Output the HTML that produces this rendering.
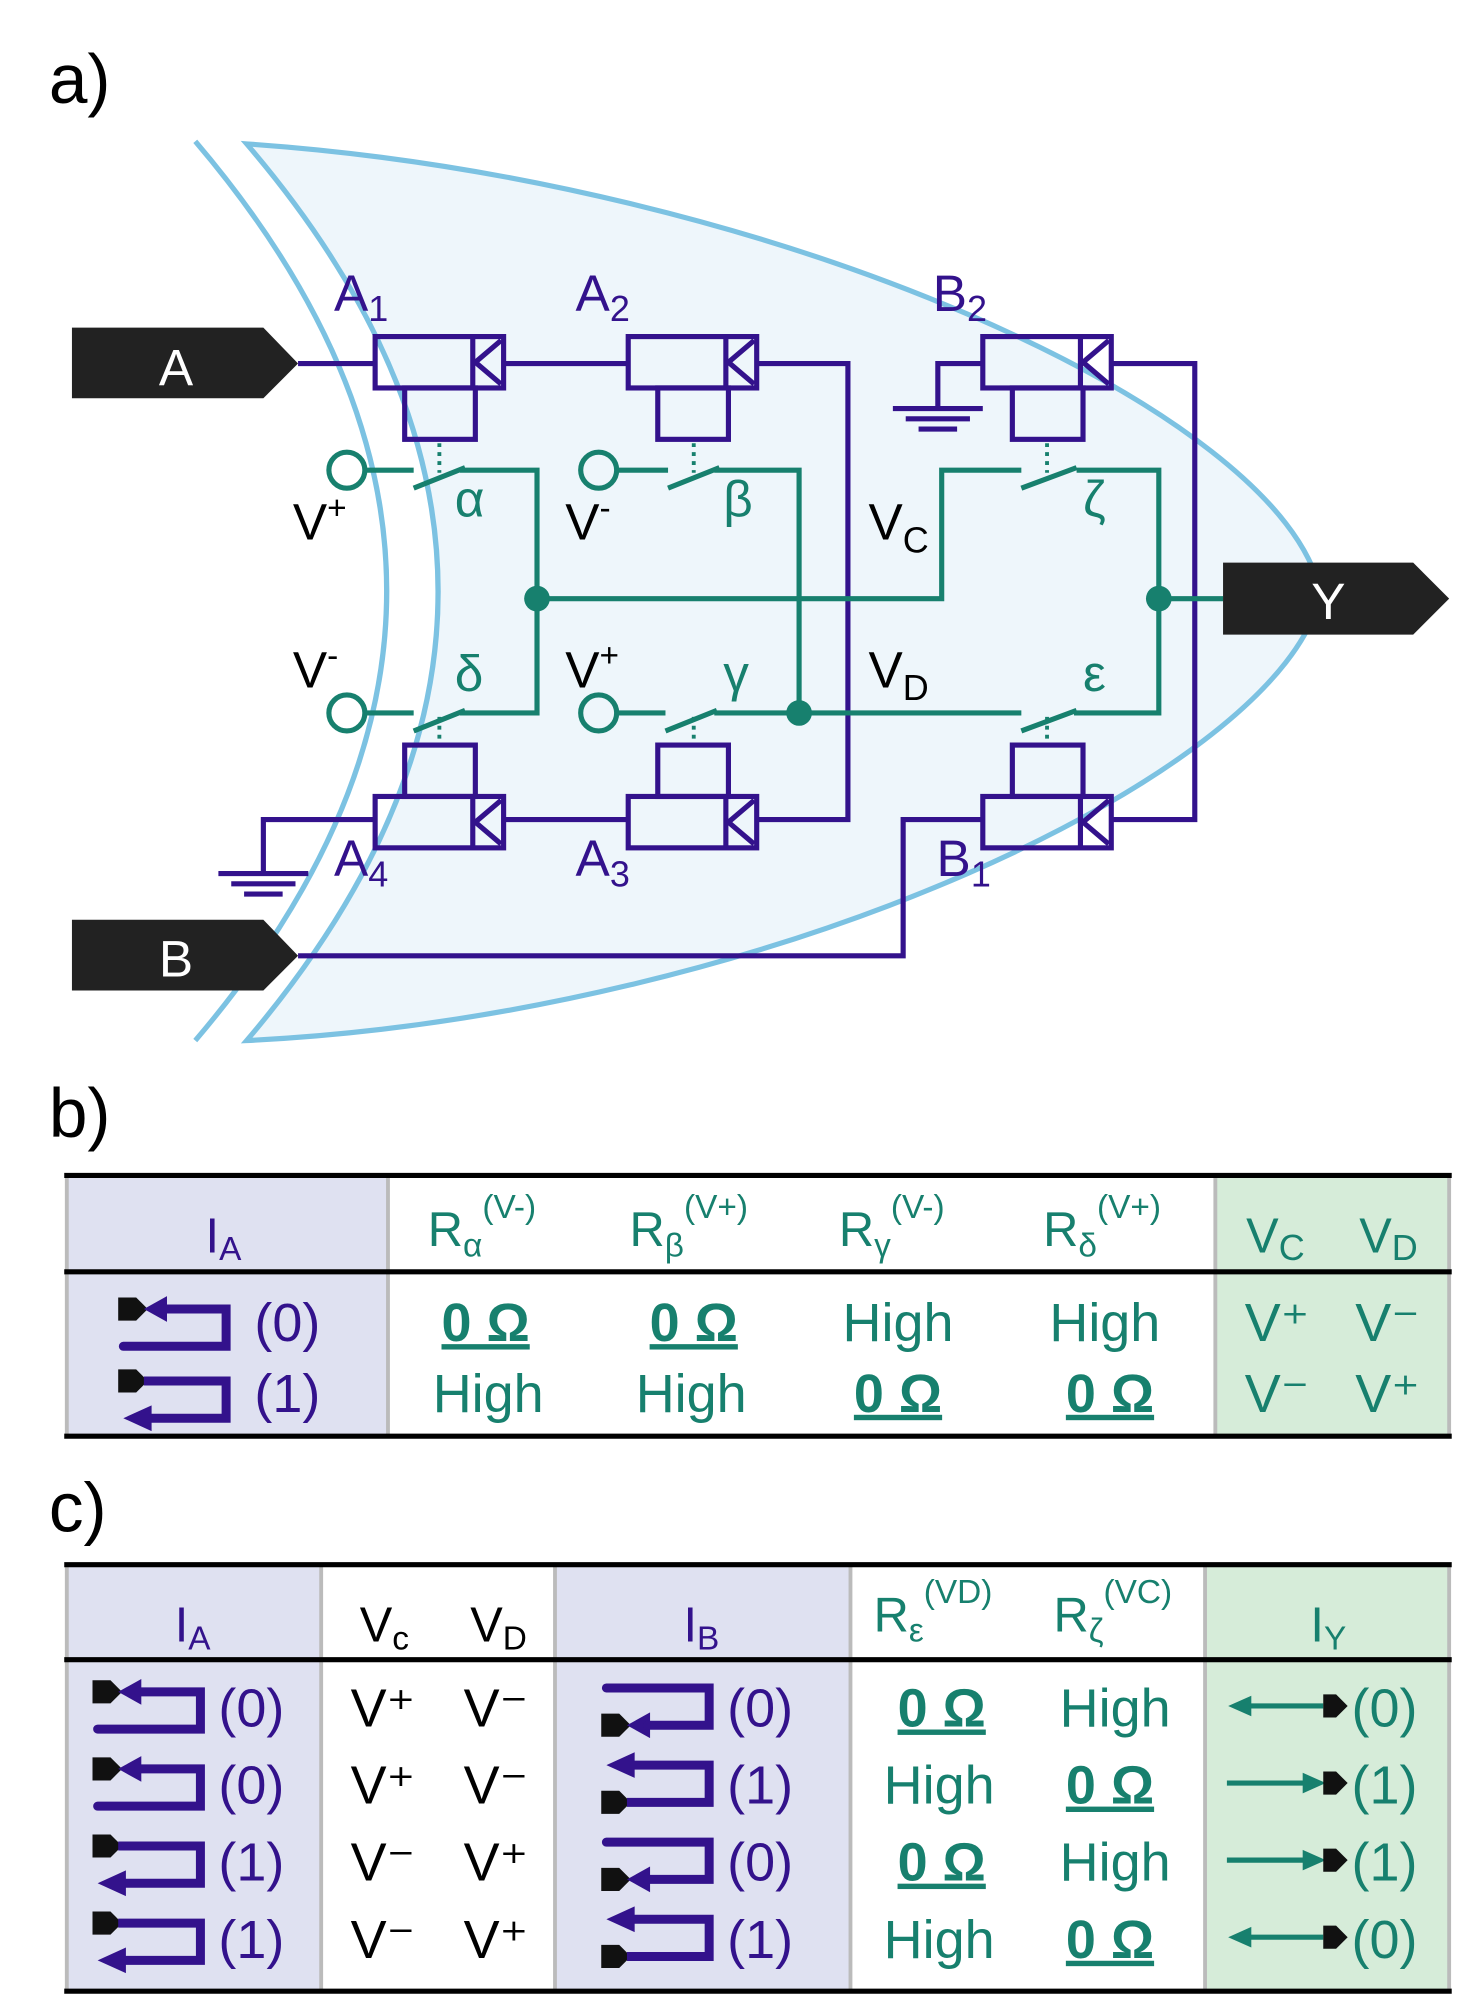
<!DOCTYPE html>
<html><head><meta charset="utf-8"><style>
html,body{margin:0;padding:0;background:#fff}
svg{display:block}
text{font-family:"Liberation Sans","DejaVu Sans",sans-serif}
.p{fill:#33128c}.g{fill:#17806e}.k{fill:#000}
.wp{stroke:#33128c;stroke-width:4;fill:none}
.wg{stroke:#17806e;stroke-width:4;fill:none}
</style></head><body>
<svg width="1462" height="2013" viewBox="0 0 1138 1567" preserveAspectRatio="none" xmlns="http://www.w3.org/2000/svg">
<defs>
<g id="tab"><polygon points="0,0 14,0 23,9 14,18 0,18" fill="#111"/></g>
<g id="ic0"><use href="#tab"/><polygon points="20,9 38,-1 38,19" fill="#33128c"/><polyline points="36,9 84,9 84,38 4,38" stroke="#33128c" stroke-width="7" fill="none" stroke-linecap="round"/></g>
<g id="ic1"><use href="#tab"/><polyline points="20,9 84,9 84,38 22,38" stroke="#33128c" stroke-width="7" fill="none"/><polygon points="4,38 26,28 26,48" fill="#33128c"/></g>
</defs>
<!-- a -->
<text x="38" y="80" font-size="54" class="k">a)</text>
<path d="M192,112 Q490,460 192,810 C600,790 1000,600 1028,462 C1000,320 600,140 192,112 Z" fill="#eef6fb" stroke="#7cc2e2" stroke-width="4"/>
<path d="M152,110 Q450,460 152,810" fill="none" stroke="#7cc2e2" stroke-width="4"/>
<path class="wp" d="M232,283H292 M392,283H489 M589,283H660V638H589 M392,638H489 M292,638H205V680 M765,283H730V318 M865,283H930V638H865 M765,638H703V744H232"/>
<g stroke="#33128c" stroke-width="4">
<line x1="170" y1="680" x2="240" y2="680"/><line x1="180" y1="688" x2="230" y2="688"/><line x1="190" y1="696" x2="220" y2="696"/>
<line x1="695" y1="318" x2="765" y2="318"/><line x1="705" y1="326" x2="755" y2="326"/><line x1="715" y1="334" x2="745" y2="334"/>
</g>
<g id="mt"><rect x="292" y="262" width="100" height="40" class="wp"/><rect x="315" y="302" width="55" height="40" class="wp"/><polyline points="390,265 370,282 390,299" class="wp"/><line x1="368" y1="262" x2="368" y2="302" class="wp"/></g>
<use href="#mt" x="197"/><use href="#mt" x="473"/>
<g id="mb"><rect x="292" y="620" width="100" height="40" class="wp"/><rect x="315" y="580" width="55" height="40" class="wp"/><polyline points="390,623 370,640 390,657" class="wp"/><line x1="368" y1="620" x2="368" y2="660" class="wp"/></g>
<use href="#mb" x="197"/><use href="#mb" x="473"/>
<g class="wg">
<circle cx="270" cy="366" r="14"/><circle cx="466" cy="366" r="14"/><circle cx="270" cy="555" r="14"/><circle cx="466" cy="555" r="14"/>
<path d="M284,366H322 M322,380L362,364 M358,366H418V555H358 M362,553L322,569 M322,555H284"/>
<path d="M480,366H520 M520,380L560,364 M556,366H622V555 M480,555H518 M518,569L558,553 M556,555H795 M795,569L838,553 M836,555H902V366H838 M838,364L795,380 M795,366H733V466H418 M902,466H952"/>
</g>
<g stroke="#17806e" stroke-width="3" stroke-dasharray="3,4">
<line x1="342" y1="345" x2="342" y2="368"/><line x1="540" y1="345" x2="540" y2="368"/><line x1="815" y1="345" x2="815" y2="368"/>
<line x1="342" y1="558" x2="342" y2="578"/><line x1="540" y1="558" x2="540" y2="578"/><line x1="815" y1="558" x2="815" y2="578"/>
</g>
<circle cx="418" cy="466" r="10" class="g"/><circle cx="622" cy="555" r="10" class="g"/><circle cx="902" cy="466" r="10" class="g"/>
<polygon points="56,255 205,255 232,283 205,310 56,310" fill="#222"/>
<text x="137" y="300" font-size="40" fill="#fff" text-anchor="middle">A</text>
<polygon points="56,716 205,716 232,744 205,771 56,771" fill="#222"/>
<text x="137" y="760" font-size="40" fill="#fff" text-anchor="middle">B</text>
<polygon points="952,438 1100,438 1128,466 1100,494 952,494" fill="#222"/>
<text x="1034" y="482" font-size="40" fill="#fff" text-anchor="middle">Y</text>
<g font-size="40" class="p">
<text x="260" y="242">A<tspan font-size="28" dy="8">1</tspan></text>
<text x="448" y="242">A<tspan font-size="28" dy="8">2</tspan></text>
<text x="726" y="242">B<tspan font-size="28" dy="8">2</tspan></text>
<text x="260" y="682">A<tspan font-size="28" dy="8">4</tspan></text>
<text x="448" y="682">A<tspan font-size="28" dy="8">3</tspan></text>
<text x="729" y="682">B<tspan font-size="28" dy="8">1</tspan></text>
</g>
<g font-size="40" class="k">
<text x="228" y="420">V<tspan font-size="26" dy="-16">+</tspan></text>
<text x="440" y="420">V<tspan font-size="26" dy="-16">-</tspan></text>
<text x="676" y="420">V<tspan font-size="28" dy="10">C</tspan></text>
<text x="228" y="535">V<tspan font-size="26" dy="-16">-</tspan></text>
<text x="440" y="535">V<tspan font-size="26" dy="-16">+</tspan></text>
<text x="676" y="535">V<tspan font-size="28" dy="10">D</tspan></text>
</g>
<g font-size="40" class="g">
<text x="354" y="402">α</text><text x="563" y="402">β</text><text x="843" y="402">ζ</text>
<text x="354" y="538">δ</text><text x="563" y="538">γ</text><text x="843" y="538">ε</text>
</g>
<!-- b -->
<text x="38" y="885" font-size="54" class="k">b)</text>
<rect x="52" y="916" width="250" height="202" fill="#dfe1f1"/>
<rect x="946" y="916" width="182" height="202" fill="#d6ecd9"/>
<g stroke="#bbb" stroke-width="3"><line x1="52" y1="916" x2="52" y2="1118"/><line x1="302" y1="916" x2="302" y2="1118"/><line x1="946" y1="916" x2="946" y2="1118"/><line x1="1128" y1="916" x2="1128" y2="1118"/></g>
<g stroke="#000" stroke-width="4"><line x1="50" y1="915" x2="1130" y2="915"/><line x1="50" y1="990" x2="1130" y2="990"/><line x1="50" y1="1118" x2="1130" y2="1118"/></g>
<g font-size="38">
<text x="160" y="975" class="p">I<tspan font-size="26" dy="6">A</tspan></text>
<g class="g">
<text x="333" y="970">R<tspan font-size="26" dy="8">α</tspan><tspan font-size="26" dy="-30">(V-)</tspan></text>
<text x="490" y="970">R<tspan font-size="26" dy="8">β</tspan><tspan font-size="26" dy="-30">(V+)</tspan></text>
<text x="653" y="970">R<tspan font-size="26" dy="8">γ</tspan><tspan font-size="26" dy="-30">(V-)</tspan></text>
<text x="812" y="970">R<tspan font-size="26" dy="8">δ</tspan><tspan font-size="26" dy="-30">(V+)</tspan></text>
<text x="970" y="975">V<tspan font-size="28" dy="6">C</tspan></text>
<text x="1058" y="975">V<tspan font-size="28" dy="6">D</tspan></text>
</g></g>
<use href="#ic0" x="92" y="1010"/><use href="#ic1" x="92" y="1066"/>
<g font-size="42" class="p"><text x="198" y="1044">(0)</text><text x="198" y="1099">(1)</text></g>
<g font-size="42" class="g" text-anchor="middle">
<text x="378" y="1044" font-weight="bold" text-decoration="underline">0 Ω</text>
<text x="540" y="1044" font-weight="bold" text-decoration="underline">0 Ω</text>
<text x="699" y="1044">High</text><text x="860" y="1044">High</text>
<text x="380" y="1099">High</text><text x="538" y="1099">High</text>
<text x="699" y="1099" font-weight="bold" text-decoration="underline">0 Ω</text>
<text x="864" y="1099" font-weight="bold" text-decoration="underline">0 Ω</text>
<text x="994" y="1044">V⁺</text><text x="1080" y="1044">V⁻</text>
<text x="994" y="1099">V⁻</text><text x="1080" y="1099">V⁺</text>
</g>
<!-- c -->
<text x="38" y="1192" font-size="54" class="k">c)</text>
<rect x="52" y="1219" width="198" height="331" fill="#dfe1f1"/>
<rect x="432" y="1219" width="230" height="331" fill="#dfe1f1"/>
<rect x="938" y="1219" width="190" height="331" fill="#d6ecd9"/>
<g stroke="#bbb" stroke-width="3"><line x1="52" y1="1219" x2="52" y2="1550"/><line x1="250" y1="1219" x2="250" y2="1550"/><line x1="432" y1="1219" x2="432" y2="1550"/><line x1="662" y1="1219" x2="662" y2="1550"/><line x1="938" y1="1219" x2="938" y2="1550"/><line x1="1128" y1="1219" x2="1128" y2="1550"/></g>
<g stroke="#000" stroke-width="4"><line x1="50" y1="1218" x2="1130" y2="1218"/><line x1="50" y1="1292" x2="1130" y2="1292"/><line x1="50" y1="1550" x2="1130" y2="1550"/></g>
<g font-size="38">
<text x="136" y="1278" class="p">I<tspan font-size="26" dy="6">A</tspan></text>
<text x="280" y="1278" class="k">V<tspan font-size="26" dy="6">c</tspan></text>
<text x="366" y="1278" class="k">V<tspan font-size="26" dy="6">D</tspan></text>
<text x="532" y="1278" class="p">I<tspan font-size="26" dy="6">B</tspan></text>
<g class="g">
<text x="680" y="1270">R<tspan font-size="26" dy="8">ε</tspan><tspan font-size="26" dy="-30">(VD)</tspan></text>
<text x="820" y="1270">R<tspan font-size="26" dy="8">ζ</tspan><tspan font-size="26" dy="-30">(VC)</tspan></text>
<text x="1020" y="1278">I<tspan font-size="26" dy="6">Y</tspan></text>
</g></g>
<use href="#ic0" x="72" y="1308"/><use href="#ic0" x="72" y="1368"/><use href="#ic1" x="72" y="1428"/><use href="#ic1" x="72" y="1488"/>
<g transform="translate(468,1306) scale(1,-1) translate(0,-46)"><use href="#ic0"/></g>
<g transform="translate(468,1366) scale(1,-1) translate(0,-46)"><use href="#ic1"/></g>
<g transform="translate(468,1426) scale(1,-1) translate(0,-46)"><use href="#ic0"/></g>
<g transform="translate(468,1486) scale(1,-1) translate(0,-46)"><use href="#ic1"/></g>
<g font-size="42">
<g class="p"><text x="170" y="1344">(0)</text><text x="170" y="1404">(0)</text><text x="170" y="1464">(1)</text><text x="170" y="1524">(1)</text>
<text x="566" y="1344">(0)</text><text x="566" y="1404">(1)</text><text x="566" y="1464">(0)</text><text x="566" y="1524">(1)</text></g>
<g class="k" text-anchor="middle"><text x="298" y="1344">V⁺</text><text x="386" y="1344">V⁻</text><text x="298" y="1404">V⁺</text><text x="386" y="1404">V⁻</text>
<text x="298" y="1464">V⁻</text><text x="386" y="1464">V⁺</text><text x="298" y="1524">V⁻</text><text x="386" y="1524">V⁺</text></g>
<g class="g" text-anchor="middle">
<text x="733" y="1344" font-weight="bold" text-decoration="underline">0 Ω</text><text x="868" y="1344">High</text>
<text x="731" y="1404">High</text><text x="864" y="1404" font-weight="bold" text-decoration="underline">0 Ω</text>
<text x="733" y="1464" font-weight="bold" text-decoration="underline">0 Ω</text><text x="868" y="1464">High</text>
<text x="731" y="1524">High</text><text x="864" y="1524" font-weight="bold" text-decoration="underline">0 Ω</text>
</g>
<g class="g"><text x="1052" y="1344">(0)</text><text x="1052" y="1404">(1)</text><text x="1052" y="1464">(1)</text><text x="1052" y="1524">(0)</text></g>
</g>
<g stroke="#17806e" stroke-width="4">
<line x1="968" y1="1328" x2="1030" y2="1328"/><line x1="955" y1="1388" x2="1018" y2="1388"/><line x1="955" y1="1448" x2="1018" y2="1448"/><line x1="968" y1="1508" x2="1030" y2="1508"/>
</g>
<g class="g"><polygon points="956,1328 974,1320 974,1336"/><polygon points="1032,1388 1014,1380 1014,1396"/><polygon points="1032,1448 1014,1440 1014,1456"/><polygon points="956,1508 974,1500 974,1516"/></g>
<g fill="#111"><polygon points="1030,1319 1040,1319 1049,1328 1040,1337 1030,1337"/><polygon points="1030,1379 1040,1379 1049,1388 1040,1397 1030,1397"/><polygon points="1030,1439 1040,1439 1049,1448 1040,1457 1030,1457"/><polygon points="1030,1499 1040,1499 1049,1508 1040,1517 1030,1517"/></g>
</svg>
</body></html>
